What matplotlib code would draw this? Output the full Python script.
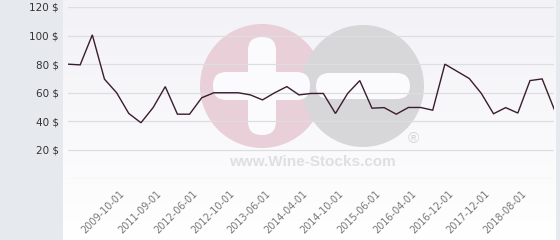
import numpy as np
import matplotlib
matplotlib.use("Agg")
import matplotlib.pyplot as plt
from matplotlib.patches import Circle, FancyBboxPatch, Rectangle
from matplotlib.transforms import ScaledTranslation

# ---- data ----
prices = [80, 79.5, 100.5, 69.5, 60, 45.5, 39, 49.6, 64.3, 45, 45, 56.5, 60, 60,
          60, 58.5, 55, 60, 64.3, 58.5, 59.5, 59.5, 45.5, 59.5, 68.5, 49.2, 49.6,
          45, 49.7, 49.7, 47.8, 80, 75, 70, 59.5, 45.3, 49.6, 45.8, 68.5, 69.7, 48.3]
tick_index = [4, 7, 10, 13, 16, 19, 22, 25, 28, 31, 34, 37]
tick_labels = ["2009-10-01", "2011-09-01", "2012-06-01", "2012-10-01",
               "2013-06-01", "2014-04-01", "2014-10-01", "2015-06-01",
               "2016-04-01", "2016-12-01", "2017-12-01", "2018-08-01"]
y_ticks = [20, 40, 60, 80, 100, 120]
y_tick_labels = ["20 $", "40 $", "60 $", "80 $", "100 $", "120 $"]

W, H = 560, 240
fig = plt.figure(figsize=(W / 100, H / 100), dpi=100)
fig.patch.set_facecolor("white")

# ---- background layer in pixel coordinates ----
bg = fig.add_axes([0, 0, 1, 1], zorder=0)
bg.set_xlim(0, W)
bg.set_ylim(H, 0)
bg.axis("off")
grad = np.linspace(0, 1, 256).reshape(-1, 1)
top = np.array([242, 242, 247]) / 255
bot = np.array([255, 255, 255]) / 255
img = top[None, None, :] * (1 - grad[..., None]) + bot[None, None, :] * grad[..., None]
bg.imshow(img, extent=[63, 556, H, 0], aspect="auto", zorder=0)
bg.add_patch(Rectangle((0, 0), 63, H, facecolor="#e6eaee", edgecolor="none", zorder=1))
bg.add_patch(Rectangle((556, 0), 4, H, facecolor="#e6eaee", edgecolor="none", zorder=1))

# watermark
bg.add_patch(Circle((262, 86), 62, facecolor="#e9cfd7", edgecolor="none", zorder=2))
bg.add_patch(Circle((363, 86), 61, facecolor="#d7d7d9", edgecolor="none", zorder=3))
for (x0, y0, w, h) in [(248, 37, 28, 98), (213, 72, 97, 28), (316, 73, 94, 26)]:
    bg.add_patch(FancyBboxPatch((x0, y0), w, h,
                                boxstyle="round,pad=0,rounding_size=13.5",
                                facecolor="#fbfbfd", edgecolor="none", zorder=4))
bg.text(312, 162, "www.Wine-Stocks.com", ha="center", va="center",
        fontsize=11, fontweight="bold", family="Liberation Sans",
        color="#dfdfe1", zorder=4)
bg.text(413, 139, "®", ha="center", va="center", fontsize=11,
        family="Liberation Sans", color="#d5d5d7", zorder=4)

# ---- main chart ----
left, right = 68 / W, 554.3 / W
bottom, topp = (H - 178.5) / H, (H - 7) / H
ax = fig.add_axes([left, bottom, right - left, topp - bottom], zorder=1)
ax.patch.set_alpha(0)
x = np.arange(len(prices))
ax.plot(x, prices, color="#3a1c2c", lw=1.0, zorder=3, solid_joinstyle="miter")
ax.set_xlim(0, len(prices) - 1)
ax.set_ylim(0, 120)
ax.set_yticks([0] + y_ticks)
ax.set_yticklabels([""] + y_tick_labels, fontsize=7.5, color="#333333")
ax.grid(axis="y", color="#dedede", lw=0.9, zorder=1)
ax.set_axisbelow(True)
ax.tick_params(axis="y", length=0, pad=6.5)
for s in ax.spines.values():
    s.set_visible(False)

ax.set_xticks(tick_index)
ax.set_xticklabels(tick_labels, rotation=45, ha="right", va="top",
                   rotation_mode="anchor", fontsize=7, color="#777777")
ax.tick_params(axis="x", length=0, pad=7.5)
off = ScaledTranslation(3 / 100, 0, fig.dpi_scale_trans)
for lab in ax.get_xticklabels():
    lab.set_transform(lab.get_transform() + off)

fig.savefig("out.png", dpi=100)
